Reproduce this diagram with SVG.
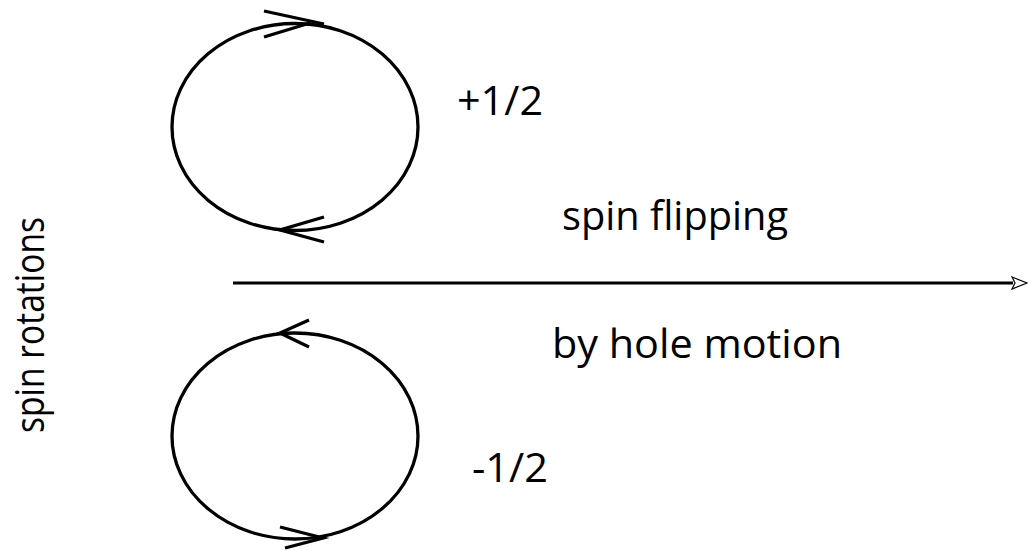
<svg xmlns="http://www.w3.org/2000/svg" width="1028" height="550" viewBox="0 0 1028 550">
<style>
.ln{fill:none;stroke:#000;stroke-width:3.3;stroke-linecap:butt;stroke-linejoin:miter}
.t{font-family:"Open Sans","Noto Sans",sans-serif;fill:#000}
</style>
<rect width="1028" height="550" fill="#fff"/>
<g id="loop-up">
<ellipse class="ln" cx="295" cy="127" rx="123" ry="103.5"/>
<path class="ln" d="M264,11 L324,24 M264,37 L310,23"/>
<path class="ln" d="M324,217 L280,230 L324,242"/>
</g>
<g id="loop-down">
<ellipse class="ln" cx="295" cy="436" rx="123" ry="103"/>
<path class="ln" d="M309,320 L280,333 L309,347"/>
<path class="ln" d="M280,527 L323,538 L285,548"/>
</g>
<g id="connectors">
<line x1="233" y1="283" x2="1013" y2="283" stroke="#000" stroke-width="3"/>
<path d="M1012,277 L1027,283 L1012,289 L1015,283 Z" fill="#fff" stroke="#000" stroke-width="1.2"/>
</g>
<g id="labels">
<text class="t" x="457" y="115" font-size="40" textLength="86" lengthAdjust="spacingAndGlyphs">+1/2</text>
<text class="t" x="562" y="230" font-size="40" textLength="226" lengthAdjust="spacingAndGlyphs">spin flipping</text>
<text class="t" x="552" y="358" font-size="40" textLength="290" lengthAdjust="spacingAndGlyphs">by hole motion</text>
<text class="t" x="472" y="482" font-size="40" textLength="76" lengthAdjust="spacingAndGlyphs">-1/2</text>
<text class="t" transform="translate(44,433) rotate(-90)" font-size="40" textLength="216" lengthAdjust="spacingAndGlyphs">spin rotations</text>
</g>
</svg>
